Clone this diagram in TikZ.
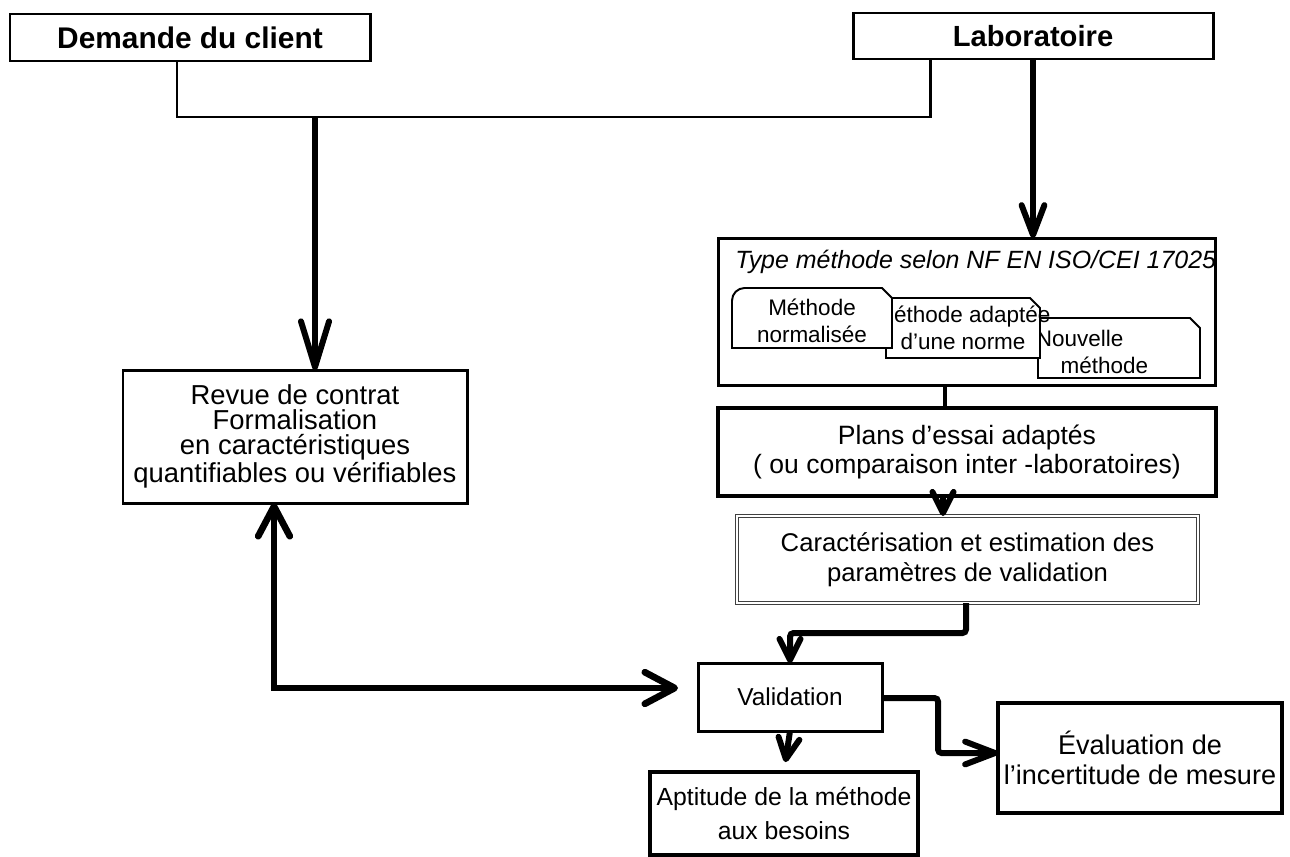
\documentclass[tikz,border=0pt]{standalone}
\usepackage{fontspec}
\setmainfont{Liberation Sans}
\usetikzlibrary{arrows.meta,calc}
\begin{document}
\begin{tikzpicture}[x=0.02cm,y=-0.02cm,
  box/.style 2 args={draw, line width=1.7pt, inner sep=0pt, outer sep=0pt, align=center,
     minimum width={#1*0.02cm}, minimum height={#2*0.02cm}},
  fs/.style 2 args={font=\fontsize{#1}{#2}\selectfont},
  thickbox/.style={line width=2.8pt},
  title/.style={font=\fontsize{#1}{18}\selectfont\bfseries},
  thinl/.style={line width=1.7pt},
  thickl/.style={line width=3.4pt},
  tipA/.style={-{Straight Barb[round,length=26pt,width=16pt]}},
  tipB/.style={-{Straight Barb[round,length=17pt,width=13pt]}},
  tipC/.style={-{Straight Barb[round,length=12pt,width=12pt]}},
  docshape/.style={draw, fill=white, line width=1.1pt},
  doctext/.style={font=\fontsize{12.8}{15.2}\selectfont, align=center, inner sep=0pt},
]
\useasboundingbox (0,0) rectangle (1290,856);

% top boxes
\node[box={360}{47}, title=17] (demande) at (190,37.5) {Demande du client};
\node[box={360}{46}, title=16.6] (labo) at (1033,36) {Laboratoire};

% left box
\node[box={344}{133}, fs={15.6}{14.3}] (revue) at (295,436.5) {Revue de contrat\\Formalisation\\en caractéristiques\\quantifiables ou vérifiables};

% type methode box
\node[box={497}{147}] (type) at (966.5,311.5) {};
\node[anchor=west, inner sep=0pt, font=\fontsize{14.2}{16}\selectfont\itshape] (typetitle) at (735,262) {Type méthode selon NF EN ISO/CEI 17025};

% document shapes (back to front)
\draw[docshape] (1038,378) -- (1038,318) -- (1190,318) -- (1200,328) -- (1200,378) -- cycle;
\node[doctext, align=left] (nouv) at (1092,352) {Nouvelle\\\hspace*{1.1em}méthode};
\draw[docshape] (886,358) -- (886,298) -- (1030,298) -- (1040,308) -- (1040,358) -- cycle;
\node[doctext] (adapt) at (963,327.5) {Méthode adaptée\\d’une norme};
\draw[docshape] (732,348) [rounded corners=0.25cm] -- (732,288) [sharp corners] -- (882,288) -- (892,298) -- (892,348) -- cycle;
\node[doctext] (norm) at (812,321) {Méthode\\normalisée};

% plans
\node[box={498}{88}, thickbox, fs={15.1}{17}] (plans) at (967,452) {Plans d’essai adaptés\\( ou comparaison inter -laboratoires)};
% caracterisation
\node[box={461}{87}, fs={14.6}{17}, line width=0.5pt, draw=black!75, double=white, double distance=1.3pt] (caract) at (967.5,559.5) {Caractérisation et estimation des\\paramètres de validation};
% validation
\node[box={184}{68}, fs={13.9}{16}] (valid) at (790,697) {Validation};
% aptitude
\node[box={268}{83}, thickbox, fs={14.1}{19.8}] (apt) at (784,813.5) {Aptitude de la méthode\\aux besoins};
% evaluation
\node[box={284}{110}, thickbox, fs={15.4}{17}] (eval) at (1140,758) {Évaluation de\\l’incertitude de mesure};

% coordinates for connector routing
\coordinate (cd) at (177,0);
\coordinate (cl) at (930,0);
\coordinate (j) at (315,117);
\coordinate (xt) at (945,0);
\coordinate (xp) at (943,0);
\coordinate (xc) at (966,0);
\coordinate (k1) at (966,633);
\coordinate (vr) at (938,698);
\coordinate (ve) at (938,753);
\coordinate (xr) at (274,0);
\coordinate (rc) at (274,688);

% connectors
\draw[thinl] (demande.south -| cd) |- (j) -| (labo.south -| cl);
\draw[thickl, tipA] (j) -- (revue.north -| j);
\draw[thickl, tipB] (labo.south) -- (type.north -| labo.south);
\draw[line width=2.8pt] (type.south -| xt) -- (plans.north -| xt);
\draw[thickl, tipC] (plans.south -| xp) -- (caract.north -| xp);
\draw[thickl, tipC, rounded corners=2pt] (caract.south -| xc) -- (k1) -| (valid.north);
\draw[thickl, tipC, shorten >=10*0.02cm] (valid.south) -- (apt.north);
\draw[thickl, tipB, rounded corners=2pt] (valid.east |- vr) -- (vr) |- (eval.west |- ve);
\draw[line width=3.8pt, {Straight Barb[round,length=17pt,width=18pt]}-{Straight Barb[round,length=17pt,width=18pt]}, shorten >=20*0.02cm]
  (revue.south -| xr) -- (rc) -- (valid.west |- rc);
\end{tikzpicture}
\end{document}
